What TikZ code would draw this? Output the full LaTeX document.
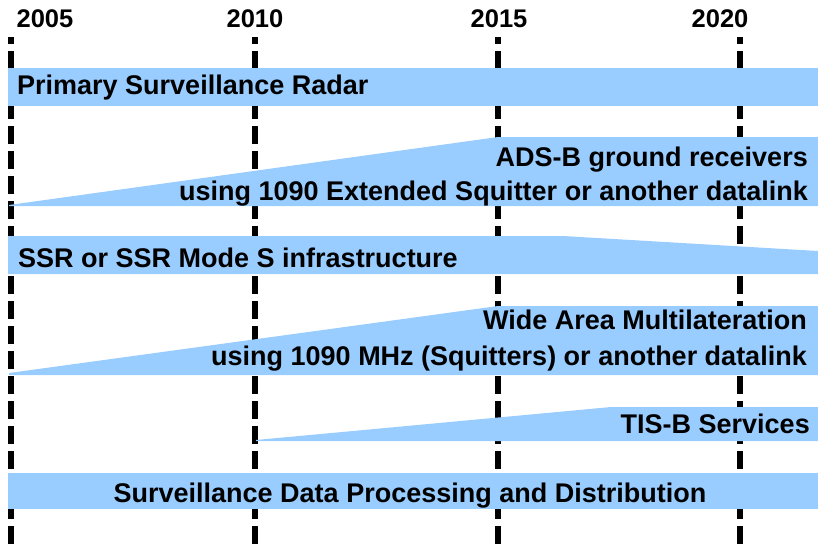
\documentclass[tikz,border=0pt]{standalone}
\usepackage{fontspec}
\setmainfont{Liberation Sans}
\definecolor{barblue}{HTML}{99CCFF}
\begin{document}
\begin{tikzpicture}[x=1pt,y=-1pt,
  yearline/.style={line width=6pt,black,dash pattern=on 18pt off 7pt,dash phase=11pt},
  bar/.style={fill=barblue,draw=none},
  lbl/.style={inner sep=0pt,font=\fontsize{27}{31}\selectfont\bfseries},
  yr/.style={inner sep=0pt,anchor=base,font=\fontsize{25.5}{29}\selectfont\bfseries}]
\useasboundingbox (0,0) rectangle (818,547);

% year grid
\foreach \x/\n/\lx in {11/2005/45,255/2010/255,498/2015/499,740/2020/720}{
  \coordinate (top\n) at (\x,37);
  \coordinate (bot\n) at (\x,547);
  \draw[yearline] (top\n) -- (bot\n);
  \node[yr] (y\n) at (\lx,27) {\n};
}

% bars
\fill[bar] (8,68) rectangle (818,106);
\fill[bar] (9,205) -- (498,137) -- (818,137) -- (818,206) -- (9,206) -- cycle;
\fill[bar] (8,236) -- (563,236) -- (818,251) -- (818,274) -- (8,274) -- cycle;
\fill[bar] (9,373) -- (498,306) -- (818,306) -- (818,375) -- (9,375) -- cycle;
\fill[bar] (256,440) -- (611,407) -- (818,407) -- (818,441) -- (256,441) -- cycle;
\fill[bar] (8,473) rectangle (818,509);

% bar labels
\node[lbl,anchor=base west] (psr) at (17,94) {Primary Surveillance Radar};
\node[lbl,anchor=base east] (adsb1) at (808,166) {ADS-B ground receivers};
\node[lbl,anchor=base east] (adsb2) at (808,200) {using 1090 Extended Squitter or another datalink};
\node[lbl,anchor=base west] (ssr) at (18,267) {SSR or SSR Mode S infrastructure};
\node[lbl,anchor=base east] (wam1) at (807,329) {Wide Area Multilateration};
\node[lbl,anchor=base east] (wam2) at (807,365) {using 1090 MHz (Squitters) or another datalink};
\node[lbl,anchor=base east] (tisb) at (810,433) {TIS-B Services};
\node[lbl,anchor=base] (sdpd) at (410,502) {Surveillance Data Processing and Distribution};
\end{tikzpicture}
\end{document}
